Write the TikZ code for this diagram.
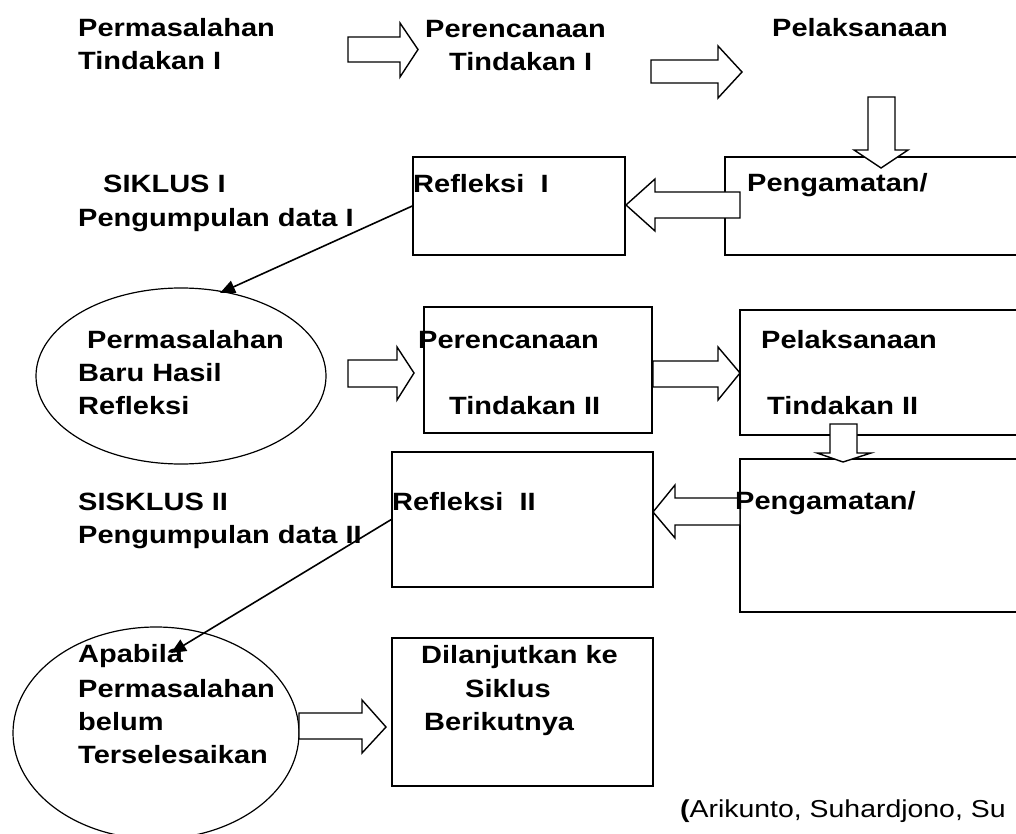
\documentclass[tikz,border=0pt]{standalone}
\usepackage{fontspec}
\setmainfont{Liberation Sans}[FakeStretch=1.16]
\usetikzlibrary{arrows.meta,shapes.geometric}
\begin{document}
\begin{tikzpicture}[x=1pt,y=-1pt,
  lbl/.style={anchor=base west, inner sep=0pt, font=\fontsize{25}{33}\selectfont\bfseries},
  cite/.style={anchor=base west, inner sep=0pt, font=\fontsize{24.5}{33}\selectfont},
  box/.style={draw, line width=1.4pt, rectangle, inner sep=0pt},
  oval/.style={draw, line width=1.2pt, ellipse, inner sep=0pt},
  blockarrow/.style={draw, fill=white, line width=1.4pt, line join=miter},
  link/.style={line width=1.6pt, -{Triangle[length=15pt,width=13pt]}}]
\useasboundingbox (0,0) rectangle (1016,834);
\clip (0,0) rectangle (1016,834);

% boxes and ovals
\node[box, minimum width=212pt, minimum height=98pt] (r1) at (519,206) {};
\node[box, minimum width=305pt, minimum height=98pt] (p1) at (877.5,206) {};
\node[box, minimum width=228pt, minimum height=126pt] (per2) at (538,370) {};
\node[box, minimum width=290pt, minimum height=125pt] (pel2) at (885,372.5) {};
\node[box, minimum width=290pt, minimum height=153pt] (peng2) at (885,535.5) {};
\node[box, minimum width=261pt, minimum height=135pt] (ref2) at (522.5,519.5) {};
\node[box, minimum width=261pt, minimum height=148pt] (dil) at (522.5,712) {};
\node[oval, minimum width=290pt, minimum height=176pt] (e1) at (181,376) {};
\node[oval, minimum width=286pt, minimum height=212pt] (e2) at (156,733) {};

% block arrows
\draw[blockarrow] (348,37) -- (400,37) -- (400,23) -- (418,49.5) -- (400,77) -- (400,62) -- (348,62) -- cycle;
\draw[blockarrow] (651,60) -- (718,60) -- (718,46) -- (742,72) -- (718,98) -- (718,83) -- (651,83) -- cycle;
\draw[blockarrow] (868,97) -- (895,97) -- (895,150) -- (908,150) -- (881,168) -- (854,150) -- (868,150) -- cycle;
\draw[blockarrow] (740,192) -- (655,192) -- (655,179) -- (626,205) -- (655,231) -- (655,218) -- (740,218) -- cycle;
\draw[blockarrow] (348,360) -- (397,360) -- (397,347) -- (414,373) -- (397,400) -- (397,387) -- (348,387) -- cycle;
\draw[blockarrow] (653,361) -- (718,361) -- (718,347) -- (740,373) -- (718,400) -- (718,387) -- (653,387) -- cycle;
\draw[blockarrow] (830,424) -- (857,424) -- (857,453) -- (871,453) -- (843,462) -- (817,453) -- (830,453) -- cycle;
\draw[blockarrow] (740,498) -- (675,498) -- (675,485) -- (653,512) -- (675,538) -- (675,525) -- (740,525) -- cycle;
\draw[blockarrow] (299,713) -- (362,713) -- (362,700) -- (386,727) -- (362,753) -- (362,739) -- (299,739) -- cycle;

% connectors
\coordinate (e1top) at (220,293);
\coordinate (e2in) at (171,653);
\draw[link] (r1.west) -- (e1top);
\draw[link] (ref2.west) -- (e2in);

% texts
\node[lbl] (t1a) at (78,37) {Permasalahan};
\node[lbl] (t1b) at (78,70) {Tindakan I};
\node[lbl] (t2a) at (425,38) {Perencanaan};
\node[lbl] (t2b) at (449,71) {Tindakan I};
\node[lbl] (t3a) at (772,37) {Pelaksanaan};
\node[lbl] (s1a) at (103,193) {SIKLUS I};
\node[lbl] (s1b) at (78,226) {Pengumpulan data I};
\node[lbl] (tr1) at (413,193) {Refleksi\ \ I};
\node[lbl] (tp1) at (747,192) {Pengamatan/};
\node[lbl] (te1a) at (87,348) {Permasalahan};
\node[lbl] (te1b) at (78,381) {Baru Hasil};
\node[lbl] (te1c) at (78,414) {Refleksi};
\node[lbl] (tper2a) at (418,348) {Perencanaan};
\node[lbl] (tper2b) at (449,414) {Tindakan II};
\node[lbl] (tpel2a) at (761,348) {Pelaksanaan};
\node[lbl] (tpel2b) at (767,414) {Tindakan II};
\node[lbl] (s2a) at (78,510) {SISKLUS II};
\node[lbl] (s2b) at (78,543) {Pengumpulan data II};
\node[lbl] (tr2) at (392,510) {Refleksi\ \ II};
\node[lbl] (tp2) at (735,509) {Pengamatan/};
\node[lbl] (te2a) at (78,662) {Apabila};
\node[lbl] (te2b) at (78,697) {Permasalahan};
\node[lbl] (te2c) at (78,730) {belum};
\node[lbl] (te2d) at (78,763) {Terselesaikan};
\node[lbl] (td1) at (421,663) {Dilanjutkan ke};
\node[lbl] (td2) at (465,697) {Siklus};
\node[lbl] (td3) at (424,730) {Berikutnya};
\node[cite] (src) at (680,817) {{\bfseries(}Arikunto, Suhardjono, Su};
\end{tikzpicture}
\end{document}
